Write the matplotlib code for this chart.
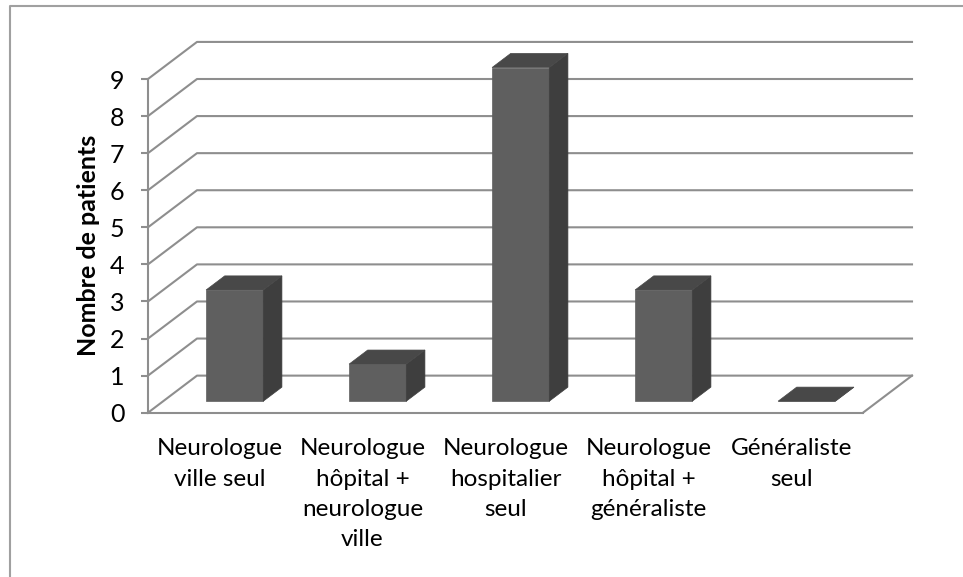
import matplotlib
matplotlib.use("Agg")
import matplotlib.pyplot as plt
from matplotlib.lines import Line2D
from matplotlib.patches import Polygon

categories = ["Neurologue\nville seul",
              "Neurologue\nhôpital +\nneurologue\nville",
              "Neurologue\nhospitalier\nseul",
              "Neurologue\nhôpital +\ngénéraliste",
              "Généraliste\nseul"]
patients = [3, 1, 9, 3, 0]
y_ticks = [0, 1, 2, 3, 4, 5, 6, 7, 8, 9]

W, H = 963, 577
GRID = "#8e8e8e"
FRONT = "#5f5f5f"
SIDE = "#3e3e3e"
TOP = "#484848"
DEPTH_X = 49 / 143  # back wall shift, in categories
DEPTH_Y = 1.0       # back wall shift, in patients

plt.rcParams["font.family"] = ["Lato", "DejaVu Sans"]


def project(x, v, d):
    """oblique projection: depth d goes 0 (front) to 1 (back wall)"""
    return (x + d * DEPTH_X, v + d * DEPTH_Y)


def draw_bar(ax, i, value, width=0.4, d0=0.31, d1=0.69):
    x0, x1 = i + 0.5 - width / 2, i + 0.5 + width / 2
    front = [project(x0, 0, d0), project(x1, 0, d0),
             project(x1, value, d0), project(x0, value, d0)]
    side = [project(x1, 0, d0), project(x1, 0, d1),
            project(x1, value, d1), project(x1, value, d0)]
    top = [project(x0, value, d0), project(x1, value, d0),
           project(x1, value, d1), project(x0, value, d1)]
    for pts, color in ((front, FRONT), (side, SIDE), (top, TOP)):
        ax.add_patch(Polygon(pts, closed=True, facecolor=color, edgecolor=color,
                             linewidth=0.5, clip_on=False, zorder=3))


fig = plt.figure(figsize=(W / 100, H / 100), dpi=100, facecolor="white")
ax = fig.add_axes([148 / W, (H - 412.7) / H, 715 / W, 333.7 / H])
ax.set_xlim(0, 5)
ax.set_ylim(0, 9)
ax.patch.set_visible(False)

# walls
for v in y_ticks:
    xs, ys = zip(project(0, v, 0), project(0, v, 1), project(5, v, 1))
    ax.plot(xs, ys, color=GRID, lw=1.5, clip_on=False, zorder=1)
xs, ys = zip(project(5, 0, 0), project(5, 0, 1))
ax.plot(xs, ys, color=GRID, lw=1.5, clip_on=False, zorder=1)

for i, value in enumerate(patients):
    draw_bar(ax, i, value)

for side in ("top", "right"):
    ax.spines[side].set_visible(False)
for side in ("left", "bottom"):
    ax.spines[side].set_color(GRID)
    ax.spines[side].set_linewidth(1.5)

ax.set_yticks(y_ticks)
ax.set_xticks([i + 0.5 for i in range(len(categories))])
ax.set_xticklabels(categories, linespacing=1.55, fontsize=17.5)
ax.tick_params(axis="x", length=0, pad=18.5)
ax.tick_params(axis="y", length=5, width=1.5, color=GRID, pad=12, labelsize=18)
ax.set_ylabel("Nombre de patients", fontsize=18, fontweight="bold", labelpad=7)

# frame of the pasted picture
fig.add_artist(Line2D([10 / W, 10 / W, 1], [0, (H - 6) / H, (H - 6) / H],
                      color="#a0a0a0", lw=1.5))

fig.savefig("out.png", dpi=100)
